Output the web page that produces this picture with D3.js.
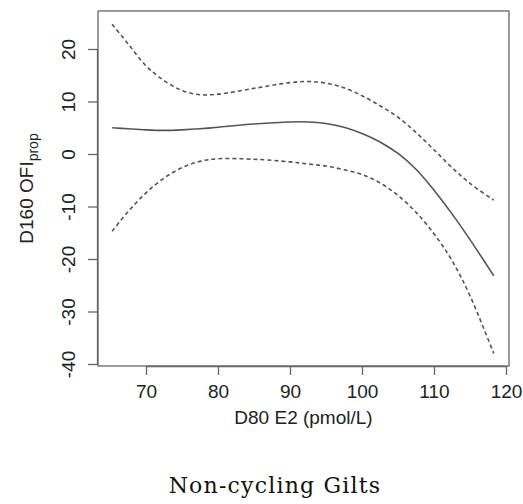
<!DOCTYPE html>
<html><head><meta charset="utf-8">
<script src="https://cdn.jsdelivr.net/npm/d3@7"></script>
<style>body{margin:0;background:#fff}</style>
</head><body>
<svg id="c" width="523" height="504"></svg>
<script>
const xs = [65.3, 67.5, 70, 72.5, 75, 77.5, 80, 85, 90, 92.5, 95, 97.5, 100, 102.5, 105, 107.5, 110, 112.5, 115, 118.3];
const fit = [5.0, 4.8, 4.6, 4.5, 4.6, 4.8, 5.1, 5.7, 6.1, 6.1, 5.8, 5.1, 3.9, 2.3, 0.1, -2.9, -6.9, -11.4, -16.3, -23.2];
const upper = [24.7, 21.0, 16.8, 14.0, 12.1, 11.3, 11.4, 12.5, 13.6, 13.8, 13.5, 12.6, 11.1, 9.2, 7.0, 4.1, 0.8, -2.6, -5.6, -8.8];
const lower = [-14.7, -11.0, -7.4, -4.6, -2.6, -1.4, -0.9, -1.0, -1.5, -1.9, -2.3, -3.0, -3.9, -5.5, -7.9, -11.1, -15.2, -20.3, -27.0, -38.0];
const xTicks = [70, 80, 90, 100, 110, 120];
const yTicks = [20, 10, 0, -10, -20, -30, -40];

const svg = d3.select("#c");
const L = 98, R = 509, T = 11, B = 366;
const x = d3.scaleLinear().domain([70, 120]).range([146, 506]);
const y = d3.scaleLinear().domain([0, -40]).range([154, 364]);
const font = "Liberation Sans, Arial, sans-serif";
const stroke = "#555";
const fmt = d => String(d);

svg.append("rect").attr("x", L).attr("y", T).attr("width", R - L).attr("height", B - T)
  .attr("fill", "none").attr("stroke", "#666").attr("stroke-width", 1.3);

const xa = svg.append("g").attr("transform", `translate(0,${B})`)
  .call(d3.axisBottom(x).tickValues(xTicks).tickSize(9).tickSizeOuter(0).tickFormat(fmt));
xa.select(".domain").attr("d", `M${x(70)},0.5H${x(120)}`).attr("stroke", "#666").attr("stroke-width", 1.3);
xa.selectAll(".tick line").attr("stroke", "#666").attr("stroke-width", 1.3);
xa.selectAll(".tick text").attr("font-family", font).attr("font-size", 19).attr("fill", "#222").attr("dy", "1.05em");

const ya = svg.append("g").attr("transform", `translate(${L},0)`)
  .call(d3.axisLeft(y).tickValues(yTicks).tickSize(10).tickSizeOuter(0).tickFormat(fmt));
ya.select(".domain").attr("d", `M-0.5,${y(20)}V${y(-40)}`).attr("stroke", "#666").attr("stroke-width", 1.3);
ya.selectAll(".tick line").attr("stroke", "#666").attr("stroke-width", 1.3);
ya.selectAll(".tick text").attr("font-family", font).attr("font-size", 19).attr("fill", "#222")
  .attr("text-anchor", "middle").attr("x", null)
  .attr("transform", "translate(-30,0) rotate(-90)").attr("dy", "0.35em");

const line = (vals) => d3.line().x((d, i) => x(xs[i])).y(d => y(d)).curve(d3.curveCatmullRom.alpha(0.5))(vals);
svg.append("path").attr("d", line(fit)).attr("fill", "none").attr("stroke", stroke).attr("stroke-width", 1.6);
[upper, lower].forEach(v => svg.append("path").attr("d", line(v)).attr("fill", "none")
  .attr("stroke", stroke).attr("stroke-width", 1.6).attr("stroke-dasharray", "4,3"));

svg.append("text").attr("x", (L + R) / 2).attr("y", 424).attr("text-anchor", "middle")
  .attr("font-family", font).attr("font-size", 19).attr("fill", "#222").text("D80 E2 (pmol/L)");

const yl = svg.append("text").attr("transform", `translate(33,${(T + B) / 2}) rotate(-90)`)
  .attr("text-anchor", "middle").attr("font-family", font).attr("font-size", 19).attr("fill", "#222");
yl.append("tspan").text("D160 OFI");
yl.append("tspan").attr("font-size", 14).attr("dy", 5).text("prop");

svg.append("text").attr("x", 275).attr("y", 493).attr("text-anchor", "middle")
  .attr("font-family", "DejaVu Serif, serif").attr("font-size", 22).attr("letter-spacing", 1.2).attr("fill", "#111")
  .text("Non-cycling Gilts");
</script>
</body></html>
